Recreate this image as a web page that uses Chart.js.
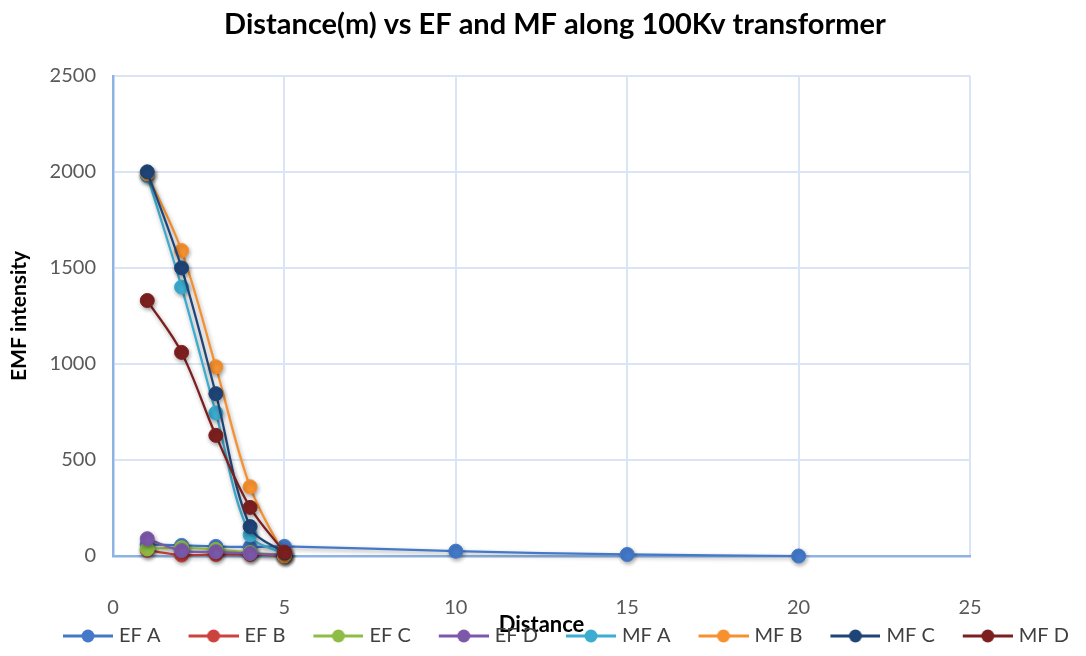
<!DOCTYPE html>
<html>
<head>
<meta charset="utf-8">
<script src="https://cdn.jsdelivr.net/npm/chart.js@4.4.1/dist/chart.umd.min.js"></script>
<style>
  html, body { margin: 0; padding: 0; background: #ffffff; }
  #chartBox { width: 1086px; height: 656px; }
</style>
</head>
<body>
<div id="chartBox"><canvas id="emf_chart"></canvas></div>
<script>
// distance from the transformer (m)
var distanceNear = [1, 2, 3, 4, 5];
var distanceFar = [1, 2, 3, 4, 5, 10, 15, 20];

// electric field readings
var efA = [60, 55, 50, 47, 50, 25, 8, 0];
var efB = [30, 5, 8, 8, 0];
var efC = [37, 43, 34, 18, 5];
var efD = [90, 28, 22, 13, 5];

// magnetic field readings
var mfA = [1980, 1400, 745, 110, 10];
var mfB = [1990, 1590, 985, 360, 0];
var mfC = [2000, 1500, 845, 153, 15];
var mfD = [1330, 1060, 628, 253, 20];

var seriesNames = ['EF A', 'EF B', 'EF C', 'EF D', 'MF A', 'MF B', 'MF C', 'MF D'];
var seriesColors = ['#4379c8', '#cc433e', '#8dbd45', '#7c58a9', '#3cadd0', '#f7912f', '#1f4477', '#7d1f1f'];

var xTicks = [0, 5, 10, 15, 20, 25];
var yTicks = [0, 500, 1000, 1500, 2000, 2500];

var fontFamily = 'Lato, "Open Sans", sans-serif';

function toPoints(xs, ys) {
    return ys.map(function (v, i) { return { x: xs[i], y: v }; });
}

// legend swatch: short line with a marker in the middle,
// left part of the canvas is empty so it acts as spacing between items
function makeSwatch(color) {
    var c = document.createElement('canvas');
    c.width = 76;
    c.height = 16;
    var g = c.getContext('2d');
    g.strokeStyle = color;
    g.lineWidth = 3;
    g.beginPath();
    g.moveTo(26, 8);
    g.lineTo(76, 8);
    g.stroke();
    g.fillStyle = color;
    g.beginPath();
    g.arc(51, 8, 6.5, 0, Math.PI * 2);
    g.fill();
    return c;
}
var swatches = seriesColors.map(makeSwatch);

var seriesData = [
    toPoints(distanceFar, efA),
    toPoints(distanceNear, efB),
    toPoints(distanceNear, efC),
    toPoints(distanceNear, efD),
    toPoints(distanceNear, mfA),
    toPoints(distanceNear, mfB),
    toPoints(distanceNear, mfC),
    toPoints(distanceNear, mfD)
];

var datasets = seriesData.map(function (pts, i) {
    return {
        label: seriesNames[i],
        data: pts,
        borderColor: seriesColors[i],
        backgroundColor: seriesColors[i],
        borderWidth: 2.25,
        pointRadius: 7,
        pointHoverRadius: 7,
        pointBorderWidth: 1,
        tension: 0.35,
        clip: false,
        order: seriesNames.length - i   // later series sit on top
    };
});

// soft drop shadow under lines and markers
var markerShadow = {
    id: 'markerShadow',
    beforeDatasetsDraw: function (chart) {
        var ctx = chart.ctx;
        ctx.save();
        ctx.shadowColor = 'rgba(0, 0, 0, 0.35)';
        ctx.shadowBlur = 4;
        ctx.shadowOffsetX = 1;
        ctx.shadowOffsetY = 2;
    },
    afterDatasetsDraw: function (chart) {
        chart.ctx.restore();
    }
};

function plainLabel(value) { return String(value); }

var emf_ctx = document.getElementById('emf_chart');
var emf_chart = new Chart(emf_ctx, {
    type: 'line',
    data: { datasets: datasets },
    plugins: [markerShadow],
    options: {
        responsive: true,
        maintainAspectRatio: false,
        animation: false,
        layout: { padding: { left: 24, right: 0, top: 0, bottom: 0 } },
        scales: {
            x: {
                type: 'linear',
                min: 0,
                max: 25,
                afterBuildTicks: function (scale) {
                    scale.ticks = xTicks.map(function (v) { return { value: v }; });
                },
                afterFit: function (scale) { scale.height = 64; },
                grid: { color: '#d9e4f4', lineWidth: 2, drawTicks: false },
                border: { color: '#8db3e2', width: 2.5 },
                ticks: {
                    padding: 40,
                    color: '#595959',
                    callback: plainLabel,
                    font: { family: fontFamily, size: 20 }
                },
                title: {
                    display: true,
                    text: 'Distance',
                    color: '#000000',
                    font: { family: fontFamily, size: 22, weight: 'bold' },
                    padding: { top: 0, bottom: -18 }
                }
            },
            y: {
                min: 0,
                max: 2500,
                afterBuildTicks: function (scale) {
                    scale.ticks = yTicks.map(function (v) { return { value: v }; });
                },
                afterFit: function (scale) { scale.width = 89; },
                grid: { color: '#d9e4f4', lineWidth: 2, drawTicks: false },
                border: { color: '#8db3e2', width: 2.5 },
                ticks: {
                    padding: 17,
                    color: '#595959',
                    callback: plainLabel,
                    font: { family: fontFamily, size: 20 }
                },
                title: {
                    display: true,
                    text: 'EMF intensity',
                    color: '#000000',
                    font: { family: fontFamily, size: 21, weight: 'bold' },
                    padding: { top: -17, bottom: 0 }
                }
            },
            // empty right-hand axis that only reserves space
            yPad: {
                position: 'right',
                afterFit: function (scale) { scale.width = 116; },
                grid: { display: false, drawTicks: false },
                border: { display: false },
                ticks: { display: false }
            }
        },
        plugins: {
            title: {
                display: true,
                text: 'Distance(m) vs EF and MF along 100Kv transformer',
                color: '#000000',
                font: { family: fontFamily, size: 29, weight: 'bold' },
                padding: { top: 7, bottom: 34 }
            },
            legend: {
                position: 'bottom',
                labels: {
                    usePointStyle: true,
                    pointStyleWidth: 68,
                    padding: 6,
                    color: '#404040',
                    font: { family: fontFamily, size: 20 },
                    generateLabels: function (chart) {
                        return chart.data.datasets.map(function (ds, i) {
                            return {
                                text: ds.label,
                                datasetIndex: i,
                                pointStyle: swatches[i],
                                fillStyle: ds.borderColor,
                                strokeStyle: ds.borderColor,
                                lineWidth: 0,
                                fontColor: '#404040',
                                hidden: !chart.isDatasetVisible(i)
                            };
                        });
                    }
                }
            },
            tooltip: { enabled: false }
        }
    }
});
</script>
</body>
</html>
